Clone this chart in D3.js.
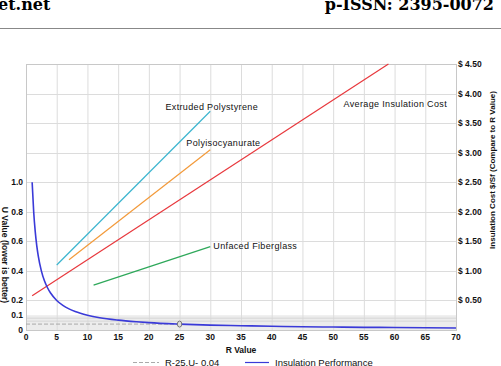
<!doctype html>
<html lang="en">
<head>
<meta charset="utf-8">
<script src="https://d3js.org/d3.v7.min.js"></script>
<style>
  body { margin: 0; padding: 0; background: #fff; }
  svg text { font-family: Arial, "Liberation Sans", sans-serif; }
  .tick-lbl { font-size: 8.5px; font-weight: bold; fill: #111; }
  .series-lbl { font-size: 9px; fill: #111; letter-spacing: 0.35px; }
  .grid line { stroke: #dcdcdc; stroke-width: 1; }
</style>
</head>
<body>
<div id="chart"></div>
<script>
// R value ticks on the x axis
var xTicks = [0, 5, 10, 15, 20, 25, 30, 35, 40, 45, 50, 55, 60, 65, 70];
// left axis (U value) labels shown, grid every 0.2
var uTicks = [0, 0.1, 0.2, 0.4, 0.6, 0.8, 1.0];
var uGrid = [0, 0.2, 0.4, 0.6, 0.8, 1.0, 1.2, 1.4, 1.6, 1.8];
// right axis (cost) labels
var costTicks = [0.5, 1.0, 1.5, 2.0, 2.5, 3.0, 3.5, 4.0, 4.5];

// insulation performance: U = 1/R
var rValues = [1, 1.25, 1.5, 1.75, 2, 2.5, 3, 3.5, 4, 5, 6, 7, 8, 10, 12, 15, 18, 20, 25, 30, 35, 40, 45, 50, 55, 60, 65, 70];
var uValues = [1.0, 0.8, 0.667, 0.571, 0.5, 0.4, 0.333, 0.286, 0.25, 0.2, 0.167, 0.143, 0.125, 0.1, 0.083, 0.067, 0.056, 0.05, 0.04, 0.033, 0.029, 0.025, 0.022, 0.02, 0.018, 0.017, 0.015, 0.014];

// cost lines ($/sf) vs R value
var avgCost = [[1, 0.58], [59, 4.5]];
var polystyrene = [[5, 1.10], [30, 3.70]];
var polyiso = [[7, 1.19], [30, 3.05]];
var fiberglass = [[11, 0.76], [30, 1.41]];

// R-25 reference
var refR = 25, refU = 0.04;

var width = 501, height = 366;
var margin = { left: 26, right: 45, top: 64, bottom: 36 };
var plotW = width - margin.left - margin.right;

var svg = d3.select("#chart").append("svg")
  .attr("width", width)
  .attr("height", height);

// journal header bits
svg.append("text").attr("x", -2).attr("y", 10)
  .style("font-family", "'DejaVu Serif', 'Liberation Serif', serif")
  .style("font-size", "16px").style("font-weight", "bold")
  .text("et.net");
svg.append("text").attr("x", 494).attr("y", 10)
  .attr("text-anchor", "end")
  .style("font-family", "'DejaVu Serif', 'Liberation Serif', serif")
  .style("font-size", "16px").style("font-weight", "bold")
  .text("p-ISSN: 2395-0072");
svg.append("line").attr("x1", 0).attr("x2", width).attr("y1", 28.5).attr("y2", 28.5)
  .attr("stroke", "#888").attr("stroke-width", 1);

var x = d3.scaleLinear().domain([0, 70]).range([margin.left, margin.left + plotW]);
var yU = d3.scaleLinear().domain([0, 1.8]).range([330, margin.top]);
var yC = d3.scaleLinear().domain([0, 4.5]).range([330, margin.top]);

// band near the bottom
svg.append("rect")
  .attr("x", x(0)).attr("y", yU(0.1))
  .attr("width", x(70) - x(0)).attr("height", yU(0) - yU(0.1))
  .attr("fill", "#ececec");

var grid = svg.append("g").attr("class", "grid");
grid.selectAll("line.v").data(xTicks).enter().append("line")
  .attr("x1", d => x(d) + 0.5).attr("x2", d => x(d) + 0.5)
  .attr("y1", yU(1.8)).attr("y2", yU(0));
grid.selectAll("line.h").data(uGrid).enter().append("line")
  .attr("x1", x(0)).attr("x2", x(70))
  .attr("y1", d => Math.round(yU(d)) + 0.5).attr("y2", d => Math.round(yU(d)) + 0.5);
grid.selectAll("line.b").data([0.06, 0.08]).enter().append("line")
  .attr("x1", x(0)).attr("x2", x(70))
  .attr("y1", d => yU(d)).attr("y2", d => yU(d))
  .style("stroke", "#d6d6d6");

svg.append("rect")
  .attr("x", x(0) + 0.5).attr("y", yU(1.8) + 0.5)
  .attr("width", x(70) - x(0)).attr("height", yU(0) - yU(1.8))
  .attr("fill", "none").attr("stroke", "#c8c8c8");

// dashed reference line
svg.append("line")
  .attr("x1", x(0)).attr("x2", x(refR))
  .attr("y1", yU(refU)).attr("y2", yU(refU))
  .attr("stroke", "#aaa").attr("stroke-dasharray", "4,2");

var lineC = d3.line().x(d => x(d[0])).y(d => yC(d[1]));
function costLine(data, color) {
  svg.append("path").datum(data)
    .attr("d", lineC)
    .attr("fill", "none")
    .attr("stroke", color)
    .attr("stroke-width", 1.2);
}
costLine(avgCost, "#e8383d");
costLine(polystyrene, "#3bb5cf");
costLine(polyiso, "#f39a3a");
costLine(fiberglass, "#2ea85a");

// U curve
var uData = rValues.map((r, i) => [r, uValues[i]]);
svg.append("path").datum(uData)
  .attr("d", d3.line().x(d => x(d[0])).y(d => yU(d[1])).curve(d3.curveMonotoneX))
  .attr("fill", "none")
  .attr("stroke", "#3a3ad8")
  .attr("stroke-width", 1.6);

svg.append("ellipse")
  .attr("cx", x(refR)).attr("cy", yU(refU))
  .attr("rx", 2.2).attr("ry", 3)
  .attr("fill", "#ddd").attr("stroke", "#777");

// series labels
var labels = [
  { t: "Extruded Polystyrene", r: 22.7, c: 3.72 },
  { t: "Polyisocyanurate", r: 26.1, c: 3.11 },
  { t: "Average Insulation Cost", r: 51.7, c: 3.77 },
  { t: "Unfaced Fiberglass", r: 30.5, c: 1.37 }
];
svg.selectAll("text.series-lbl").data(labels).enter().append("text")
  .attr("class", "series-lbl")
  .attr("x", d => x(d.r)).attr("y", d => yC(d.c))
  .text(d => d.t);

// x tick labels
svg.selectAll("text.xt").data(xTicks).enter().append("text")
  .attr("class", "tick-lbl")
  .attr("x", d => x(d)).attr("y", 340)
  .attr("text-anchor", "middle")
  .text(d => d);

// left tick labels
svg.selectAll("text.ut").data(uTicks).enter().append("text")
  .attr("class", "tick-lbl")
  .attr("x", 23).attr("y", d => yU(d) + 3)
  .attr("text-anchor", "end")
  .text(d => d === 0 ? "0" : d.toFixed(1));

// right tick labels
svg.selectAll("text.ct").data(costTicks).enter().append("text")
  .attr("class", "tick-lbl")
  .attr("x", 458).attr("y", d => yC(d) + 3)
  .text(d => "$ " + d.toFixed(2));

// axis titles
svg.append("text").attr("class", "tick-lbl")
  .attr("x", x(35)).attr("y", 353)
  .attr("text-anchor", "middle")
  .text("R Value");
svg.append("text").attr("class", "tick-lbl")
  .attr("transform", "translate(2,255) rotate(90)")
  .attr("text-anchor", "middle")
  .text("U Value (lower is better)");
svg.append("text").attr("class", "tick-lbl")
  .attr("transform", "translate(495,170) rotate(-90)")
  .attr("text-anchor", "middle")
  .style("font-size", "8px")
  .text("Insulation Cost $/Sf (Compare to R Value)");

// legend
var lg = svg.append("g");
lg.append("line").attr("x1", 133).attr("x2", 159).attr("y1", 362.5).attr("y2", 362.5)
  .attr("stroke", "#aaa").attr("stroke-dasharray", "4,2");
lg.append("text").attr("class", "tick-lbl").attr("x", 165).attr("y", 365.5)
  .style("font-weight", "normal").style("font-size", "9.5px").text("R-25,U- 0.04");
lg.append("line").attr("x1", 245).attr("x2", 269).attr("y1", 362.5).attr("y2", 362.5)
  .attr("stroke", "#3a3ad8").attr("stroke-width", 1.2);
lg.append("text").attr("class", "tick-lbl").attr("x", 275).attr("y", 365.5)
  .style("font-weight", "normal").style("font-size", "9.5px").text("Insulation Performance");
</script>
</body>
</html>
